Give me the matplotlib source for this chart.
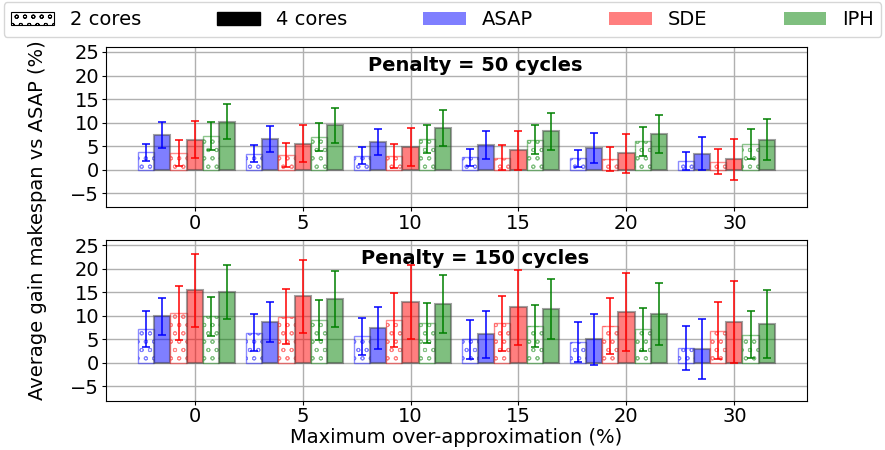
import numpy as np
import matplotlib
matplotlib.use('Agg')
import matplotlib.pyplot as plt
from matplotlib.patches import Patch

overapprox = ['0', '5', '10', '15', '20', '30']
policies = ['ASAP', 'SDE', 'IPH']
colors = ['blue', 'red', 'green']
penalties = [50, 150]

# penalty = 50 cycles
asap2_50 = [3.7, 3.4, 3.0, 2.7, 2.4, 1.9]
asap2_50_err = [1.85, 1.8, 1.8, 1.8, 1.8, 1.9]
asap4_50 = [7.4, 6.6, 5.9, 5.2, 4.6, 3.4]
asap4_50_err = [2.8, 2.75, 2.8, 3.0, 3.2, 3.5]
sde2_50 = [3.6, 3.1, 2.9, 2.6, 2.3, 1.7]
sde2_50_err = [2.7, 2.6, 2.6, 2.55, 2.6, 2.65]
sde4_50 = [6.4, 5.5, 4.9, 4.1, 3.5, 2.2]
sde4_50_err = [3.85, 3.9, 4.0, 4.1, 4.1, 4.4]
iph2_50 = [7.2, 7.0, 6.6, 6.4, 6.0, 5.5]
iph2_50_err = [3.0, 3.0, 3.0, 3.0, 3.1, 3.2]
iph4_50 = [10.2, 9.4, 8.9, 8.2, 7.6, 6.4]
iph4_50_err = [3.65, 3.8, 3.85, 3.95, 4.05, 4.4]

# penalty = 150 cycles
asap2_150 = [7.2, 6.4, 5.6, 5.0, 4.4, 3.1]
asap2_150_err = [3.8, 3.9, 4.0, 4.1, 4.3, 4.7]
asap4_150 = [9.9, 8.6, 7.4, 6.1, 5.0, 2.9]
asap4_150_err = [3.9, 4.2, 4.5, 5.0, 5.4, 6.4]
sde2_150 = [10.6, 9.8, 9.1, 8.4, 7.8, 6.8]
sde2_150_err = [5.8, 5.8, 5.75, 5.8, 5.9, 6.0]
sde4_150 = [15.4, 14.1, 12.9, 11.8, 10.8, 8.7]
sde4_150_err = [7.7, 7.8, 7.85, 8.0, 8.2, 8.65]
iph2_150 = [9.9, 9.1, 8.5, 7.8, 7.1, 6.0]
iph2_150_err = [4.15, 4.2, 4.25, 4.4, 4.6, 4.9]
iph4_150 = [15.0, 13.6, 12.5, 11.4, 10.4, 8.2]
iph4_150_err = [5.8, 5.9, 6.1, 6.3, 6.6, 7.2]

data = {
    50: [(asap2_50, asap2_50_err, asap4_50, asap4_50_err),
         (sde2_50, sde2_50_err, sde4_50, sde4_50_err),
         (iph2_50, iph2_50_err, iph4_50, iph4_50_err)],
    150: [(asap2_150, asap2_150_err, asap4_150, asap4_150_err),
          (sde2_150, sde2_150_err, sde4_150, sde4_150_err),
          (iph2_150, iph2_150_err, iph4_150, iph4_150_err)],
}

plt.rcParams['hatch.linewidth'] = 0.7
fig = plt.figure(figsize=(8.85, 4.5), dpi=100)
ax1 = fig.add_axes([0.12, 0.539, 0.7915, 0.356])
ax2 = fig.add_axes([0.12, 0.11, 0.7915, 0.356])

x = np.arange(len(overapprox))
w = 0.15

for ax, pen in zip([ax1, ax2], penalties):
    ax.set_axisbelow(True)
    ax.grid(True, color='#b0b0b0', lw=1)
    for p, (c, vals) in enumerate(zip(colors, data[pen])):
        m2, e2, m4, e4 = vals
        pos2 = x - 0.45 + (2 * p) * w
        pos4 = x - 0.45 + (2 * p + 1) * w
        ax.bar(pos2, m2, w, color='white', edgecolor=c, hatch='oo', alpha=0.45, lw=1)
        ax.bar(pos4, m4, w, color=c, alpha=0.5, edgecolor='#444444', lw=1.5)
        ax.errorbar(pos2, m2, yerr=e2, fmt='none', ecolor=c, capsize=3, elinewidth=1.1, capthick=1.1)
        ax.errorbar(pos4, m4, yerr=e4, fmt='none', ecolor=c, capsize=3, elinewidth=1.1, capthick=1.1)
    ax.set_ylim(-8, 26)
    ax.set_yticks([-5, 0, 5, 10, 15, 20, 25])
    ax.set_xticks(x)
    ax.set_xticklabels(overapprox)
    ax.tick_params(labelsize=14, pad=2, length=3)
    ax.text(0.527, 0.885, 'Penalty = %d cycles' % pen, transform=ax.transAxes,
            ha='center', va='center', fontsize=14, fontweight='bold')

ax2.set_xlabel('Maximum over-approximation (%)', fontsize=14, labelpad=1)
fig.text(0.042, 0.51, 'Average gain makespan vs ASAP (%)', rotation=90,
         ha='center', va='center', fontsize=14)

handles = [Patch(facecolor='white', edgecolor='black', hatch='oo', lw=0.8),
           Patch(facecolor='black', edgecolor='black')]
labels = ['2 cores', '4 cores']
for pol, c in zip(policies, colors):
    handles.append(Patch(facecolor=c, alpha=0.5))
    labels.append(pol)
fig.legend(handles, labels, loc='lower left', bbox_to_anchor=(0.004, 0.918, 0.992, 0.076),
           mode='expand', ncol=5, fontsize=14, borderaxespad=0, handlelength=2.2)

fig.savefig('out.png', dpi=100)
